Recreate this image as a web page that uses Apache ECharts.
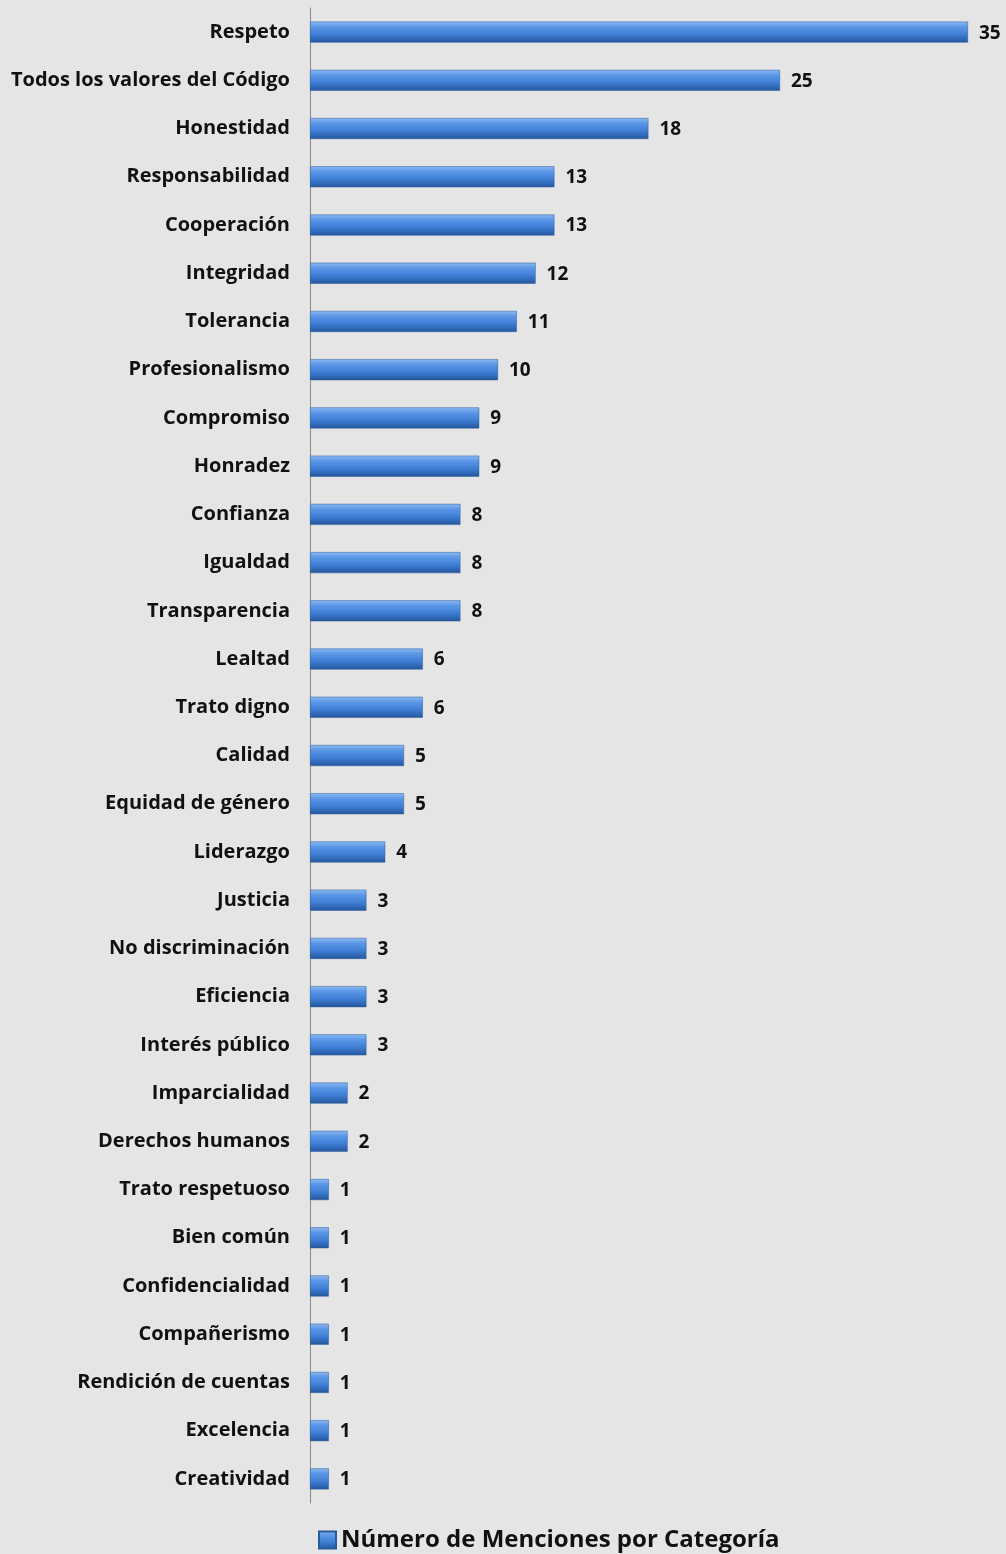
<!DOCTYPE html>
<html><head><meta charset="utf-8">
<script src="https://cdn.jsdelivr.net/npm/echarts@6/dist/echarts.min.js"></script>
<style>html,body{margin:0;padding:0;background:#e5e5e5;}#c{width:1006px;height:1554px;}</style>
</head><body><div id="c"></div>
<script>
const categories = ["Respeto","Todos los valores del Código","Honestidad","Responsabilidad","Cooperación","Integridad","Tolerancia","Profesionalismo","Compromiso","Honradez","Confianza","Igualdad","Transparencia","Lealtad","Trato digno","Calidad","Equidad de género","Liderazgo","Justicia","No discriminación","Eficiencia","Interés público","Imparcialidad","Derechos humanos","Trato respetuoso","Bien común","Confidencialidad","Compañerismo","Rendición de cuentas","Excelencia","Creatividad"];
const values = [35,25,18,13,13,12,11,10,9,9,8,8,8,6,6,5,5,4,3,3,3,3,2,2,1,1,1,1,1,1,1];
const seriesName = "Número de Menciones por Categoría";

const chart = echarts.init(document.getElementById('c'));
const font = '"Open Sans", sans-serif';
const barColor = new echarts.graphic.LinearGradient(0,0,0,1,[
  {offset:0,color:'#8dbaf2'},{offset:0.25,color:'#5b97e6'},{offset:0.6,color:'#3f7fd6'},{offset:1,color:'#24569c'}]);
chart.setOption({
  backgroundColor:'#e5e5e5',
  animation:false,
  grid:{left:310,right:38,top:8,bottom:51},
  legend:{bottom:-3,left:313,itemWidth:17,itemHeight:17,itemGap:6,
    textStyle:{fontFamily:font,fontWeight:'bold',fontSize:24,color:'#111'},
    data:[{name:seriesName,icon:'rect'}]},
  xAxis:{type:'value',min:0,max:35,show:false},
  yAxis:{type:'category',data:categories,inverse:true,
    axisLine:{show:true,lineStyle:{color:'#888',width:1}},
    axisTick:{show:false},
    axisLabel:{margin:20,fontFamily:font,fontWeight:'bold',fontSize:20,color:'#111'}},
  series:[{name:seriesName,type:'bar',data:values,barWidth:21,
    itemStyle:{color:barColor,borderColor:'#2a5a9a',borderWidth:0.5},
    label:{show:true,position:'right',distance:11,offset:[0,1],fontFamily:font,fontWeight:'bold',fontSize:19,color:'#111'}}]
});
</script></body></html>
